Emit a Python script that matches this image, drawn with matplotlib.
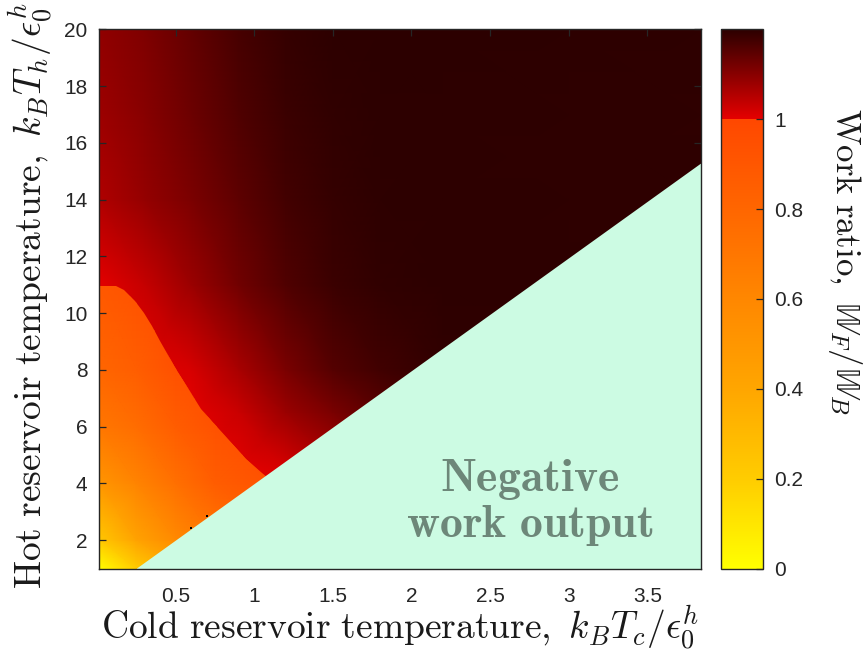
import numpy as np
import matplotlib
matplotlib.use("Agg")
import matplotlib.pyplot as plt
from matplotlib.colors import LinearSegmentedColormap, Normalize
from matplotlib.patches import Polygon
from matplotlib.cm import ScalarMappable

plt.rcParams['mathtext.fontset'] = 'cm'
plt.rcParams['font.family'] = ['Liberation Sans', 'DejaVu Sans']

# ---------------- data ----------------
# Upper field (work ratio >= 1), coarse grid
tc_up = [0.01, 0.3, 0.6, 0.9, 1.2, 1.5, 1.8, 2.2, 3.0, 3.84]
th_up = [1, 4.5, 6.5, 8, 11, 14, 17, 20]
w_up = [
    [1.001, 1.001, 1.001, 1.001, 1.001, 1.03, 1.07, 1.12, 1.18, 1.199],
    [1.001, 1.001, 1.001, 1.001, 1.015, 1.057, 1.10, 1.14, 1.186, 1.199],
    [1.001, 1.001, 1.001, 1.03, 1.08, 1.115, 1.15, 1.177, 1.198, 1.198],
    [1.001, 1.001, 1.015, 1.065, 1.115, 1.155, 1.177, 1.194, 1.198, 1.197],
    [1.001, 1.034, 1.08, 1.125, 1.16, 1.183, 1.194, 1.198, 1.198, 1.196],
    [1.057, 1.086, 1.114, 1.146, 1.174, 1.19, 1.197, 1.198, 1.197, 1.196],
    [1.077, 1.10, 1.13, 1.16, 1.183, 1.194, 1.198, 1.198, 1.197, 1.196],
    [1.09, 1.11, 1.14, 1.17, 1.19, 1.198, 1.199, 1.199, 1.198, 1.197],
]

# Lower field (work ratio < 1)
tc_low = [0.01, 0.25, 0.5, 0.75, 1.1]
th_low = [1, 2, 4, 6, 8, 11]
w_low = [
    [0.0, 0.20, 0.40, 0.55, 0.75],
    [0.22, 0.42, 0.58, 0.70, 0.80],
    [0.50, 0.62, 0.74, 0.86, 0.93],
    [0.70, 0.76, 0.86, 0.93, 0.97],
    [0.80, 0.85, 0.94, 0.97, 0.98],
    [0.89, 0.93, 0.97, 0.98, 0.98],
]

# Contour W_F/W_B = 1
ratio1_tc = [0.01, 0.12, 0.17, 0.24, 0.30, 0.35, 0.40, 0.50, 0.66, 0.83, 0.95, 1.05, 1.12]
ratio1_th = [10.97, 10.97, 10.83, 10.42, 10.0, 9.54, 9.01, 8.02, 6.61, 5.55, 4.85, 4.38, 4.05]

# Negative work boundary line
neg_tc = [0.254, 3.84]
neg_th = [1.0, 15.26]

# stray points
dot_tc = [0.597, 0.70]
dot_th = [2.43, 2.84]

cbar_ticks = [0, 0.2, 0.4, 0.6, 0.8, 1]
cbar_labels = ['0', '0.2', '0.4', '0.6', '0.8', '1']
xticks = [0.5, 1, 1.5, 2, 2.5, 3, 3.5]
xlabels = ['0.5', '1', '1.5', '2', '2.5', '3', '3.5']
yticks = [2, 4, 6, 8, 10, 12, 14, 16, 18, 20]
ylabels = ['2', '4', '6', '8', '10', '12', '14', '16', '18', '20']

# ---------------- colormap ----------------
vmax = 1.2
b = 1.0 / vmax
cmap = LinearSegmentedColormap.from_list('workratio', [
    (0.0, (1, 1, 0)),
    (0.2 * b, (1, 0.80, 0)),
    (0.4 * b, (1, 0.65, 0)),
    (0.6 * b, (1, 0.53, 0)),
    (0.8 * b, (1, 0.40, 0)),
    (b, (1, 0.28, 0)),
    (b, (0.90, 0, 0)),
    (1.0, (0.17, 0, 0)),
], N=2048)
norm = Normalize(0, vmax)

fig = plt.figure(figsize=(8.67, 6.51), dpi=100)
ax = fig.add_axes([0.1138, 0.1267, 0.6944, 0.8283])

TU, HU = np.meshgrid(tc_up, th_up)
ax.pcolormesh(TU, HU, np.array(w_up), cmap=cmap, norm=norm, shading='gouraud')

TL, HL = np.meshgrid(tc_low, th_low)
mesh_low = ax.pcolormesh(TL, HL, np.array(w_low), cmap=cmap, norm=norm, shading='gouraud')
low_verts = [(tc_low[0], th_low[0])] + list(zip(ratio1_tc, ratio1_th)) + [(1.2, 1.0)]
clip = Polygon(low_verts, closed=True, transform=ax.transData, facecolor='none', edgecolor='none')
mesh_low.set_clip_path(clip)

neg_poly = Polygon([(neg_tc[0], neg_th[0]), (neg_tc[1], neg_th[1]), (neg_tc[1] + 0.1, neg_th[1]),
                    (neg_tc[1] + 0.1, neg_th[0] - 0.1), (neg_tc[0], neg_th[0] - 0.1)],
                   closed=True, facecolor='#ccfbe3', edgecolor='none', zorder=3)
ax.add_patch(neg_poly)

ax.scatter(dot_tc, dot_th, s=4, marker='s', color='black', zorder=4, linewidths=0)

ax.text(2.75, 4.15, r'$\mathbf{Negative}$', ha='center', va='center', fontsize=33,
        color='#6d8779', zorder=5)
ax.text(2.75, 2.5, r'$\mathbf{work\ output}$', ha='center', va='center', fontsize=33,
        color='#6d8779', zorder=5)

ax.set_xlim(0.01, 3.84)
ax.set_ylim(1, 20)
ax.set_xticks(xticks)
ax.set_xticklabels(xlabels)
ax.set_yticks(yticks)
ax.set_yticklabels(ylabels)
ax.tick_params(direction='in', top=True, right=True, length=5, width=0.9,
               labelsize=15, colors='#262626')
ax.tick_params(axis='x', pad=13)
ax.tick_params(axis='y', pad=8)
for s in ax.spines.values():
    s.set_color('#262626')
    s.set_linewidth(1.0)
    s.set_zorder(6)

fig.text(0.461, 0.035, r'$\mathrm{Cold\ reservoir\ temperature,}\ k_BT_c/\epsilon_0^h$',
         ha='center', va='center', fontsize=27, color='#1a1a1a')
fig.text(0.036, 0.545, r'$\mathrm{Hot\ reservoir\ temperature,}\ k_BT_h/\epsilon_0^h$',
         ha='center', va='center', fontsize=27, rotation=90, color='#1a1a1a')

cax = fig.add_axes([0.8313, 0.1267, 0.0488, 0.8283])
cb = fig.colorbar(ScalarMappable(norm=norm, cmap=cmap), cax=cax, ticks=cbar_ticks)
cb.ax.set_yticklabels(cbar_labels)
cax.tick_params(direction='in', length=5, width=0.9, labelsize=15, colors='#262626', pad=8)
cb.outline.set_edgecolor('#262626')
cb.outline.set_linewidth(1.0)
fig.text(0.975, 0.598, r'$\mathrm{Work\ ratio,}\ \mathbb{W}_F/\mathbb{W}_B$', ha='center', va='center',
         rotation=270, fontsize=25, color='#1a1a1a')

fig.savefig('out.png', dpi=100)
